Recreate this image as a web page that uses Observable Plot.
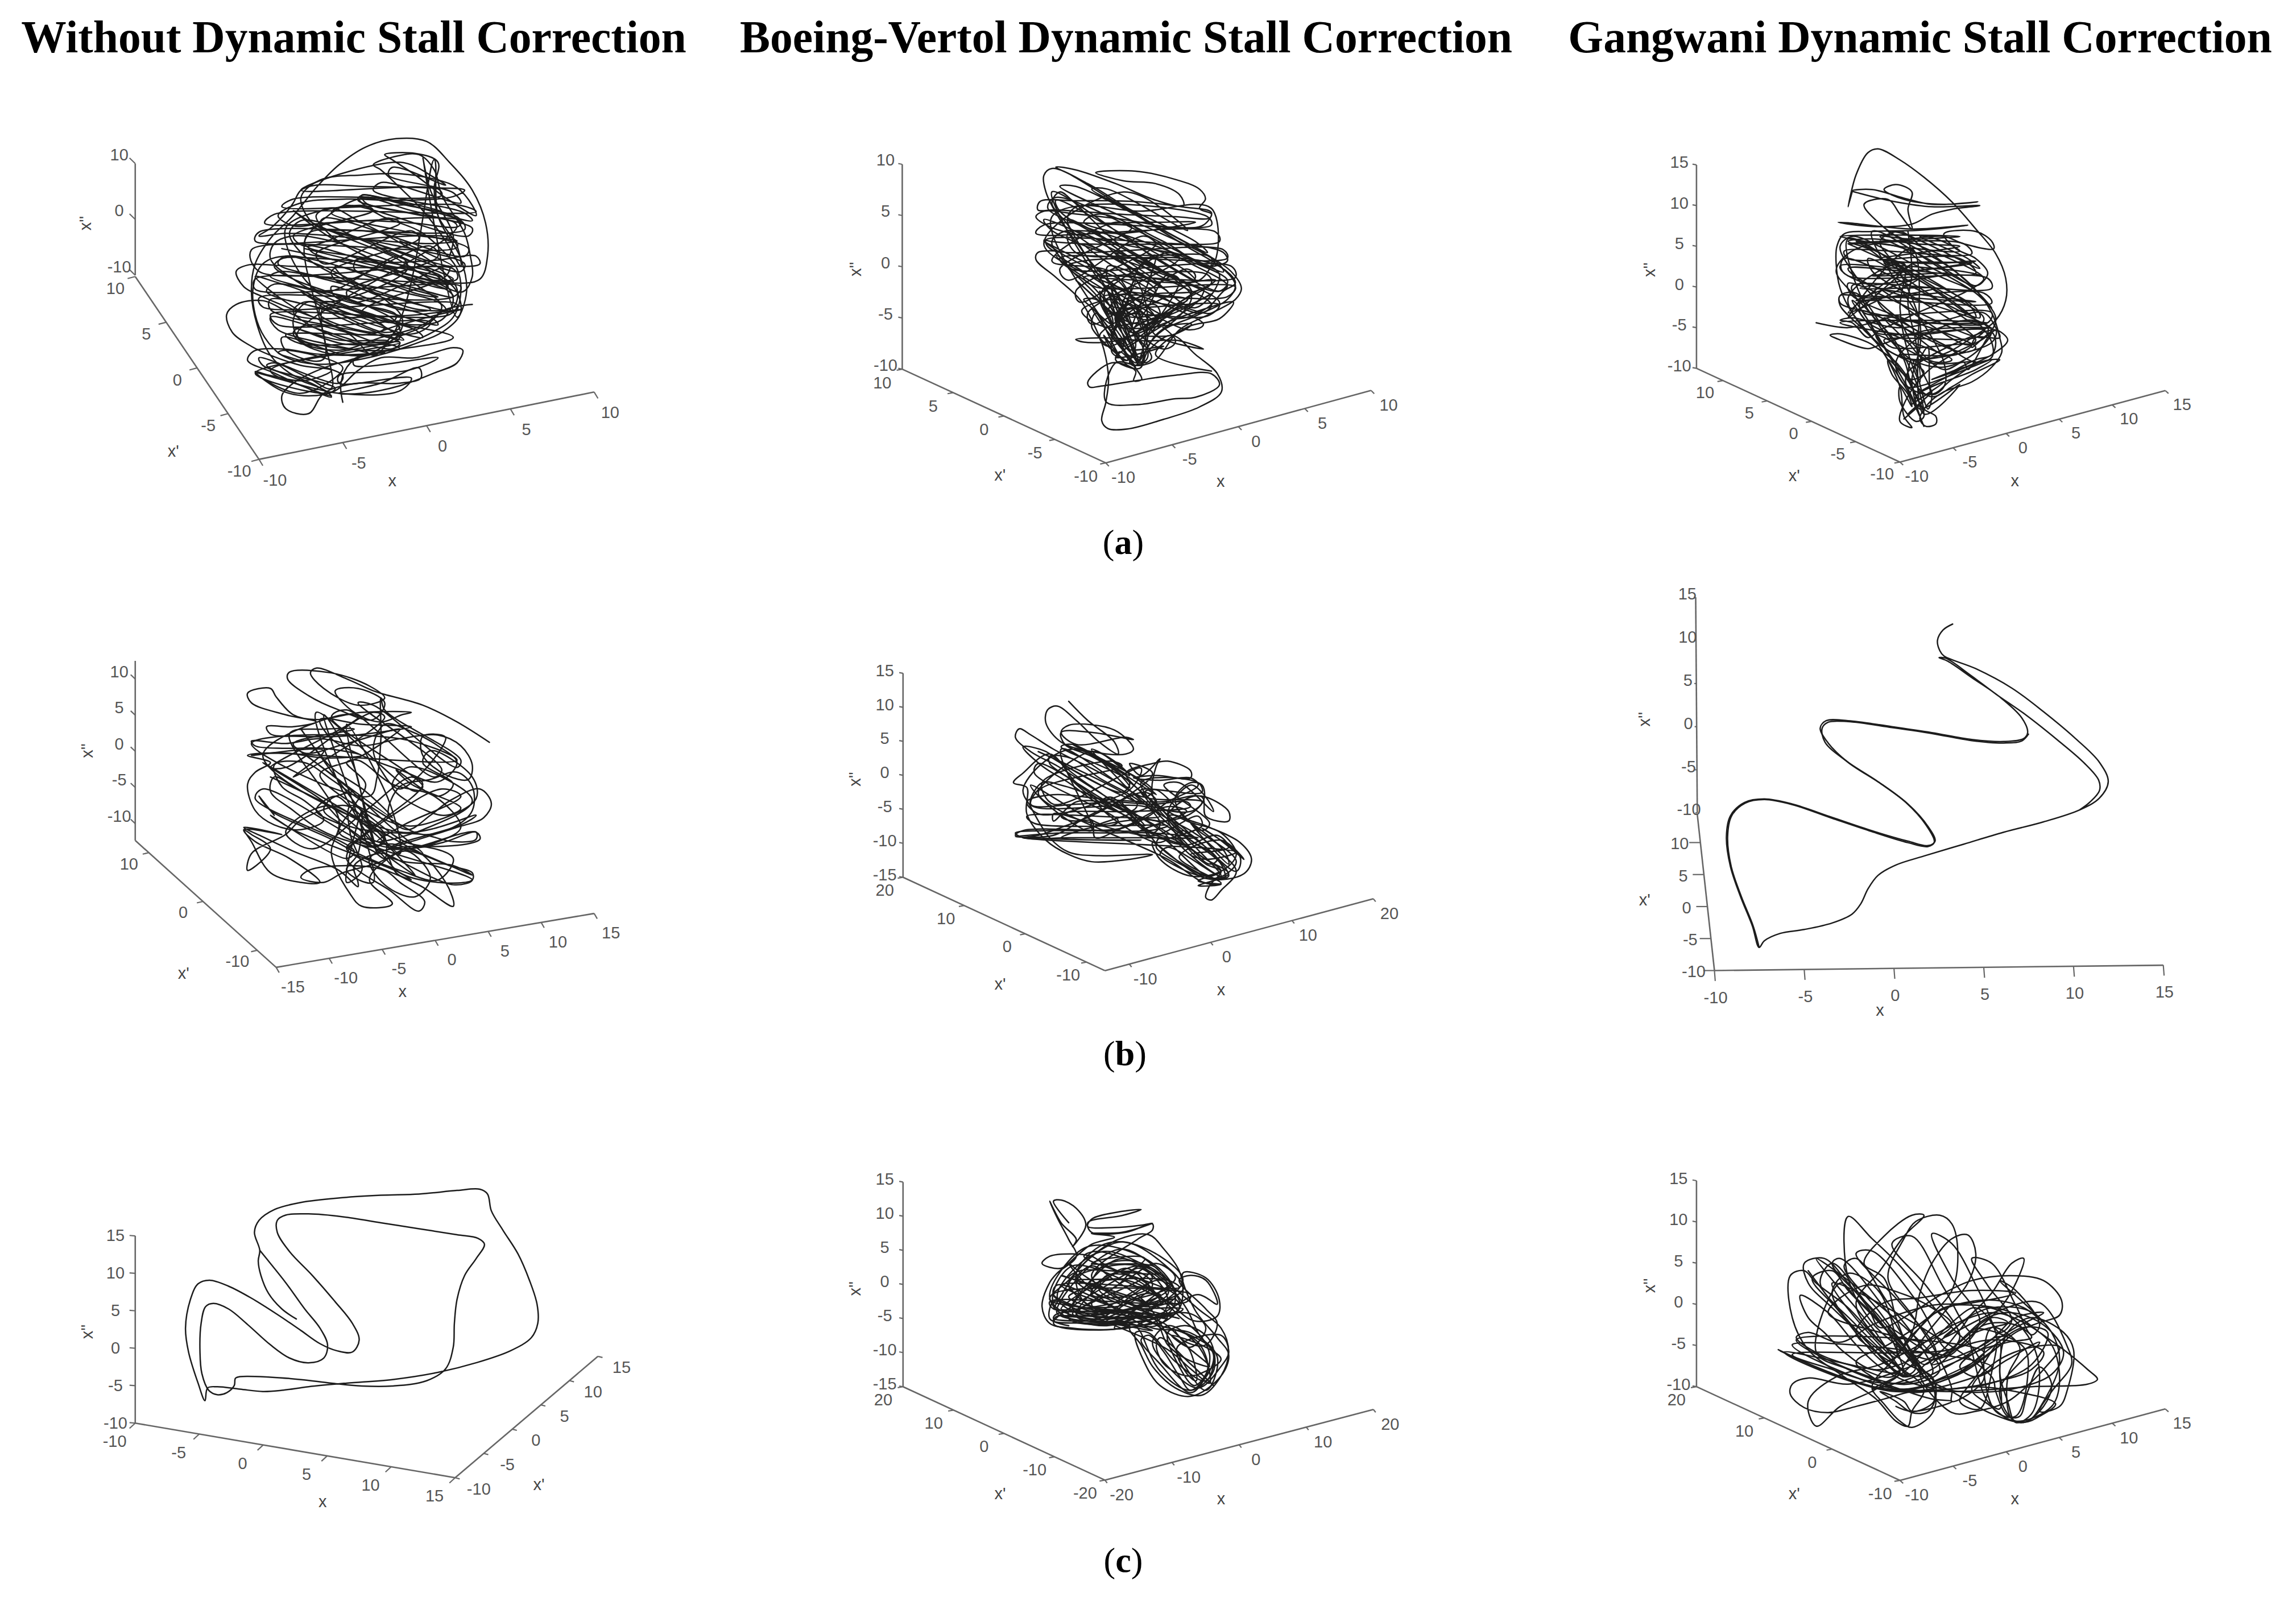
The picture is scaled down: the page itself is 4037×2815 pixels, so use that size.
<!DOCTYPE html>
<html><head><meta charset="utf-8">
<script src="https://cdn.jsdelivr.net/npm/d3@7"></script>
<script src="https://cdn.jsdelivr.net/npm/@observablehq/plot@0.6"></script>
<style>
html,body{margin:0;padding:0;background:#fff}
#page{position:relative;width:4037px;height:2815px;overflow:hidden;background:#fff}
#page svg{position:absolute;background:transparent}
.head,.cap{position:absolute;font-family:"Liberation Serif",serif;color:#000;white-space:nowrap;transform:translateX(-50%)}
.head{font-weight:bold;font-size:79.5px;top:20px}
.cap{font-size:62px;z-index:2}
</style></head><body><div id="page"></div>
<script>
const columnTitles=["Without Dynamic Stall Correction","Boeing-Vertol Dynamic Stall Correction","Gangwani Dynamic Stall Correction"];
const rowCaptions=["a","b","c"];

// Trajectories, as x,y pairs in a 0-1568 reading grid of each panel
const curveA1=[750,1135,745,1060,770,980,840,930,900,860,905,800,860,730,780,660,680,590,600,560,540,590,515,680,520,790,545,880,590,950,680,985,800,965,930,910,1020,850,1060,780,1040,680,960,630,840,560,720,500,620,480,570,510,560,570,620,650,720,730,830,790,930,830,1010,810,1040,730,1000,640,900,560,790,490,700,430,640,420,610,470,650,560,750,650,850,720,950,770,1040,760,1050,690,990,590,880,490,790,420,720,370,680,400,720,480,810,560,920,630,1030,665,1110,650,1130,560,1125,430,1090,300,1030,190,970,108,890,97,810,130,740,200,680,290,620,400,560,490,520,590,510,700,525,830,560,950,610,1020,680,1070,720,1110,650,1075,570,1020,500,970,515,935,590,925,680,945,760,950,860,940,720,945,640,900,620,860,660,830,760,860,860,905,900,880,890,820,820,760,710,700,620,650,570,600,590,570,700,570,850,585,1000,575,1100,560,1110,590,1000,600,800,605,620,600,500,595,470,620,490,680,540,720,620,770,700,815,800,870,900,830,1000,790,1060,770,950,790,800,800,640,800,540,735,470,750,445,790,460,860,510,915,560,950,640,990,720,1010,650,1050,560,1030,520,1015,590,1090,660,1110,730,1090,790,1010,850,960,940,960,1040,920,1065,930,1050,980,990,1020,900,1070,800,1100,740,1100,850,1060,950,1000,955,1040,900,1060,780,1062,700,1100,660,1180,600,1160,590,1110,620,1060,700,1000,790,960,880,925,985,860,1040,800,1060,700,1050,610,1000,520,950,460,850,400,800,350,790,330,860,335,950,360,1010,385,1060,430,1050,445,940,430,810,420,700,430,620,440,580,400,640,350,760,335,900,340,1040,325,1070,300,960,290,800,285,680,280,640,300,620,350,600,390,560,450,530,480,600,470,720,480,860,500,980,510,1050,500,950,480,800,460,680,440,640,330,690,260,800,240,900,235,1000,260,1050,290,1090,360,1100,400,1020,330,940,240,880,180,860,160,940,155,1000,190,990,290,1000,400,1050,520,1060,600,1020,500,960,380,900,290,850,220,830,200,880,170,950,160,990,220,1010,320,1070,470,1085,560,1090,640,1065,700,980,650,880,560,780,500,660,420,620,380,700,470,820,570,940,670,1010,760,960,830,850,880,740,930,640,895,620,810,660,740,740,800,840,860,910,890,850,830,740,770,650,700,570,660,520,640,620,760,770,870,830,950,880,890,970,830,1020,770,1090,750,1135];
const extraA1=[590,530,1020,690,1040,720,600,560,580,590,1000,740,1020,770,590,620,560,640,980,800,1000,830,570,670,550,700,940,850,960,880,560,730,560,770,900,900,880,925,560,800,580,850,820,945,760,950,590,880,600,930,700,965,660,470,1060,620,1070,590,690,440,700,410,1070,560,1080,530,720,390,760,360,1080,480,1090,450,790,340,800,320,1090,420,1070,390,830,300,850,270,1060,350,1040,310,870,240,880,210,1020,280,990,250,900,190,640,300,1000,295,1010,320,620,335,590,365,1060,360,1100,385,570,395,545,430,1060,420,1070,455,530,465,520,500,1040,490,1050,525,510,535,530,620,1040,610,1050,650,520,650,520,690,1060,680,1040,720,530,725,540,760,1050,750,1030,790,560,790,580,830,980,820,950,860,600,870,640,905,900,900,520,1020,710,1100,730,1080,540,990,530,960,740,1060,750,1030,580,940,600,930,750,1000,640,1100,520,1020,740,1100,900,1090,930,1040,740,1060,740,1030,920,1010,1000,960,780,990,780,965,1040,880,800,780,1020,640,1030,600,780,740,760,700,1000,560,980,520,740,660,720,620,950,490,930,460,700,590,680,550,900,430,870,410,650,520,620,480,830,380,800,360,600,450,690,700,900,560,920,610,710,740,640,700,860,860,900,840,650,740,620,780,860,900,990,180,1000,400,1060,570,1075,700,1050,800,960,170,980,300,1040,480,1030,560];
const moreA1=[650,530,840,600,1030,670,1020,650,830,585,660,520,670,545,850,615,1025,685,1010,640,820,570,650,510,790,335,930,380,1060,425,1050,405,920,360,800,320,810,350,940,395,1050,440,630,870,760,925,900,925,880,910,750,905,640,850,620,840,740,890,870,895,560,1010,650,1075,720,1115,705,1090,640,1050,550,990,570,980,660,1040,720,1080,700,760,860,840,840,860,690,790,700,740,880,820,890,790,730,720,720,680,900,770,980,770,760,650,730,600,950,710,1000,720,780,610,790,570,960,650,1040,650,860,540,830,510,1000,590,1040,600,900,500];
const curveA2=[660,415,605,420,600,445,650,510,710,590,745,680,770,770,782,880,775,965,765,1030,780,1058,830,1060,920,1025,1010,980,1065,925,1055,860,1000,790,940,720,880,780,860,840,800,810,810,780,850,840,865,880,845,885,850,850,790,820,730,890,735,908,760,905,850,885,950,865,1040,860,1060,900,1000,945,950,950,850,972,775,960,800,820,860,830,900,810,960,700,1040,640,1100,590,1115,550,1090,490,1020,420,920,340,820,250,730,170,640,115,620,140,625,200,660,300,720,420,780,560,830,720,860,830,880,760,920,700,1000,650,1080,590,1100,540,1070,480,980,400,880,310,780,220,690,140,650,110,700,120,800,170,900,230,970,250,960,210,900,170,820,160,750,130,850,125,950,155,1010,190,1025,225,1010,260,1040,280,1035,295,950,290,800,280,650,265,605,265,610,235,700,232,850,235,970,255,1040,275,1020,320,950,330,820,300,700,280,620,270,600,290,640,330,720,360,850,400,970,430,1030,470,1080,450,1070,420,1000,395,880,390,760,390,640,380,620,375,660,420,760,500,860,600,950,660,1030,620,1070,560,1100,530,1060,470,960,440,840,440,720,450,680,470,740,540,800,640,840,710,880,680,960,600,1040,530,1030,500,920,490,830,500,760,510,850,520,960,530,1050,520,1000,560,900,570,830,600,800,660,835,750,860,800,900,720,960,650,990,580,950,520,880,450,800,380,740,300,690,230,660,200,640,240,680,320,730,440,800,560,840,680,850,760,835,820,850,830,870,760,880,650,860,540,810,440,750,370,680,340,640,380,680,470,760,590,790,680,740,620,720,590,750,590,790,650,790,690,740,670,715,630,800,590,870,640,900,720,1020,770,960,740,870,740,790,730,700,735,720,745,800,740,880,700,990,640,1095,600,1060,660,980,690,900,790,1040,850];
const extraA2=[620,380,1040,640,1060,600,640,340,620,300,1060,560,1080,520,630,260,650,220,1070,490,1050,450,660,180,700,180,1030,420,1000,380,740,190,780,190,980,340,960,310,820,200,620,390,1020,680,980,700,650,430,680,470,950,740,920,770,700,520,730,560,890,800,870,820,740,620,760,670,850,840,830,830,770,720,790,770,830,810,640,290,1030,290,1040,320,620,320,600,350,1050,345,1060,380,625,375,640,410,1070,410,1080,440,660,440,690,480,1090,470,1100,510,720,510,750,545,1100,545,1080,580,770,580,790,615,1060,610,1030,650,800,650,810,690,990,680,940,720,820,730,830,770,920,760,800,800,1010,590,1020,550,780,760,760,720,1000,510,980,480,740,680,730,640,960,440,930,420,710,600,700,560,900,390,870,360,680,520,660,480,840,330,800,310,640,450,800,500,880,800,860,820,780,540,760,590,840,800,820,810,750,640,740,690,810,800,790,780,830,560,850,520,790,720,820,640,860,470,900,430,840,700,880,620,930,500,960,520,880,720,920,660,990,560,800,420,880,500,1000,620,1060,500,960,430,830,360,720,310,760,280,920,380,1040,470,1040,260,860,270,700,255,680,300,880,310,1000,310,820,350,680,350,700,420,880,430,1040,440,1010,520,880,510,780,470,790,540,980,590,950,610,820,590,830,650,940,640,880,680,820,660,870,600,900,560,870,520,820,500];
const moreA2=[780,560,830,760,860,830,840,740,790,560,800,600,870,780,850,820,770,620,760,560,850,800,830,790,770,580,800,520,880,720,870,760,790,540,810,640,840,620,870,700,900,660,820,570,780,640,900,610,910,650,790,700,800,740,930,640,960,610,820,760,840,700,1000,600,1040,570,860,660,640,200,880,420,1000,520,980,490,860,390,650,230,660,270,850,430,960,520,930,500,800,390,680,300,690,340,840,480,930,560,900,530,760,410,720,390,870,540,1010,640,1040,610,880,480,760,350,800,350,920,460,1060,560,1080,540,950,430,840,320];
const curveA3=[650,270,640,330,660,200,690,110,715,95,770,140,830,210,900,310,960,420,1010,520,1035,620,1035,710,1010,790,960,850,890,920,820,950,760,930,700,860,650,760,620,660,610,560,612,490,630,440,700,430,820,425,940,405,800,420,640,395,615,393,700,410,800,400,850,360,900,340,970,325,850,330,760,310,680,280,650,265,700,260,780,295,850,320,965,310,880,320,780,300,730,260,760,240,800,270,790,340,800,420,770,360,740,300,680,320,720,400,790,480,880,560,950,650,1000,760,1020,860,1025,920,1000,980,950,1040,880,1080,840,1130,820,1190,835,1220,860,1210,860,1180,830,1150,800,1060,780,950,720,800,660,680,620,690,620,730,680,830,720,900,770,1060,780,1180,800,1225,770,1200,780,1130,830,1010,900,930,990,850,1010,780,960,680,880,620,800,560,730,500,650,450,620,490,650,590,720,720,800,820,880,890,960,960,1000,940,1000,880,960,790,890,700,810,620,740,560,690,500,640,470,700,460,810,480,920,490,800,520,720,540,840,560,960,550,800,590,640,580,700,650,840,690,960,715,800,700,660,690,620,690,620,720,700,760,840,800,990,800,820,790,620,800,700,830,800,850,920,830,1000,820,840,830,720,890,690,905,620,870,595,850,620,845,690,880,710,900,760,960,800,1040,850,1100,900,1060,950,1010,1020,950,970,960,900,1030,850,1090,780,1050,760,960,800,880,870,820,950,790,1000,830,960,920,880,980,800,950,740,860,700,770,650,680,610,590,640,520,710,480,800,510,880,580,960,670,1000,740,960,680,900,620,830,560,780,500,720,450,790,460,880,450,930,480,1005,500,1000,470,960,430,880,440,910,500,960,540,990,600,960,650,900,580,830,500,770,430,720,470,760,570,800,700,820,800,820,900,800,1030,810,1130,830,1220];
const extraA3=[640,480,960,740,970,780,630,540,625,590,990,820,980,860,640,640,650,690,960,900,930,920,670,750,690,800,900,950,860,960,710,850,730,900,830,1000,800,1030,740,950,750,1010,790,1090,800,1140,770,1060,770,1120,810,1200,830,1180,790,1020,800,950,840,1150,850,1090,820,960,840,900,850,1090,880,1060,880,960,700,430,960,650,980,620,740,430,780,440,970,580,940,540,820,450,860,460,920,510,620,450,920,450,640,480,930,480,950,520,630,510,640,540,920,540,960,600,620,570,640,610,990,620,1000,660,650,650,660,690,980,680,1000,720,670,720,680,760,1000,760,990,800,700,800,710,840,980,830,960,860,730,870,750,900,950,890,910,930,770,930,800,950,1000,880,1010,830,790,1000,790,1060,1000,950,960,990,810,1100,820,1150,920,1050,830,1170,800,500,640,780,800,560,640,760,820,620,660,710,860,660,670,660,900,600,700,610,950,560,730,560,980,620,800,770,760,800,720,830,690,860,650,800,620,790,650,780,760,820,880,790,980,760,1010,820,1020,860,960,860,950,900,1000,840,1010,880,1000,930,960,950,900,1000,1000,930,1040,870,1010,830,990,860,940,990,930,960,880,990,800,880,760,780,700,800,640,820,560,800,480];
const moreA3=[790,430,800,600,790,720,810,880,820,1040,790,920,770,740,780,560,640,700,720,900,790,1080,820,1180,800,1100,730,900,650,710,660,720,740,920,800,1060,830,1160,810,1040,760,880,680,720,640,460,830,640,960,780,950,740,820,600,660,470,680,480,860,660,980,780,970,810,850,690,690,540,700,590,850,740,960,870,940,890,820,780,710,660,720,730,820,840,910,920,880,930,780,820,730,780,790,880,840,960,960,960,850,1030,930,980,820,1080,880,1040,800,1130,850,1080,790,1170,830,1120,780,1190];
const curveB1=[1135,415,1050,330,960,260,860,215,830,200,760,150,680,105,665,125,700,190,790,260,860,230,820,180,720,125,610,122,605,150,660,220,740,280,830,320,860,250,790,190,730,200,780,290,850,330,905,300,930,290,800,290,680,320,620,300,575,225,560,190,500,210,510,250,600,300,680,330,620,350,550,350,560,380,640,390,740,390,860,370,930,350,800,340,690,320,720,400,800,470,900,530,1000,580,1050,500,1000,430,930,370,860,340,830,440,850,530,900,610,1020,395,960,390,960,470,1020,550,1080,570,1090,510,1060,430,1000,385,900,400,800,430,690,400,600,420,510,410,520,430,600,440,700,440,800,470,700,480,600,460,500,470,560,500,520,540,500,590,520,700,570,760,640,780,700,740,650,660,590,600,570,510,650,500,720,570,800,660,880,740,960,800,1040,770,1090,700,1090,600,1050,540,980,570,900,600,870,720,920,780,980,720,1030,660,1110,610,1140,670,1120,730,1050,770,950,820,870,860,950,855,1020,830,1100,790,1100,820,1040,830,960,800,860,790,760,760,700,670,630,610,570,560,560,620,620,700,690,780,770,830,840,850,860,800,780,700,730,640,680,700,770,780,850,880,900,960,1000,1000,1090,990,1090,960,1030,930,950,880,880,850,790,820,760,900,790,950,870,1030,950,1120,965,1080,900,1000,860,950,760,930,660,950,640,980,700,1000,750,960,840,920,930,860,1020,1000,1040,1100,960,1020,890,960,860,880,780,930,790,1000,790,1018,740,950,620,870,540,810,490,770,590,800,490,780,520,830,610,900,690,1000,640,1000,560,960,510,830,490,780,510,800,560,860,500,950,510,880,600,800,640,740,760,680,820,760,860,810,860,900,830,870,780,830,740,790,780,680,810,590,760,500,790,490,880,590,990,640,1060,770,1000,830,900,860,800,820,760,770,700,700,720,650,780,620];
const extraB1=[560,560,860,820,840,850,540,610,520,650,780,870,760,900,560,720,620,780,900,960,930,990,760,860,780,830,1040,1010,1090,990,840,850,880,840,1090,970,1040,930,860,880,680,290,940,620,960,600,720,310,760,280,990,560,1010,530,790,250,830,260,1050,520,1060,490,860,280,850,230,850,400,840,560,820,640,510,420,900,400,1050,490,550,460,510,470,700,450,620,560,860,310,830,290,600,520,560,520,790,310,750,300,540,470,900,790,1100,720,1060,760,880,850,920,860,1100,790,1110,820,930,840,770,680,770,800,800,950,760,1000,800,700,790,880,760,950,830,1000,700,300,780,520,810,720,840,880,760,340,830,520,880,700,900,880,640,360,720,520,810,620,880,730,620,430,760,600,870,760,960,880,540,500,680,640,780,760,860,880,940,970,720,680,600,790,670,860,810,700,930,560,960,590,820,780,760,860,880,720,1010,610,1060,640,910,760,840,830,960,780,1090,660,1010,560,920,520,880,600,1010,720,1060,690,930,590,890,530,1000,640,1040,590,960,500,980,450,1090,560,1100,650,1000,740,900,760,690,550,790,480,870,400,900,360,760,420,650,460,620,420,780,360,700,360,610,380,740,740,720,880,770,1050,800,1100,880,1090,820,990,870,900,920,870,980,980,940,1060,860,1010,820,900,950,850,1040,900,1000,990,900,950,790,880,720,820,650,770,560,700,530,640,570,720];
const curveB2=[640,220,690,300,760,390,770,440,720,390,660,300,610,240,585,255,580,310,620,390,700,430,790,440,810,420,760,340,640,320,620,350,660,400,790,370,810,380,700,350,620,350,630,400,700,450,770,520,800,580,700,500,600,420,540,360,510,335,500,370,540,430,610,490,680,560,740,620,800,680,840,740,760,670,660,560,590,440,520,520,495,560,530,580,530,690,580,800,640,860,700,890,800,880,860,860,720,865,640,850,590,790,540,660,520,590,570,480,650,420,730,470,810,570,880,660,950,720,1040,770,1080,860,1040,930,960,950,880,880,860,810,1000,960,1100,940,1120,880,1090,810,1000,740,940,700,920,620,960,560,990,570,995,630,960,690,880,720,790,680,710,620,620,570,570,560,540,650,660,650,760,640,860,650,950,640,960,660,800,680,660,680,560,690,530,640,600,610,740,630,880,640,990,620,1000,700,1060,720,1060,680,1000,620,960,620,900,700,940,810,1000,900,1040,930,1010,990,1000,1040,1015,1050,1040,1010,1080,930,1020,830,960,760,880,690,830,600,790,520,860,480,900,470,960,510,960,540,870,530,810,540,880,550,960,540,980,570,900,640,850,700,780,750,680,760,580,760,500,770,520,790,640,790,760,790,860,790,980,790,860,770,740,770,620,770,500,785,600,780,690,700,790,620,860,520,800,480,830,530,880,460,870,490,860,610,900,700,960,800,1020,860,1060,950,1020,960,940,900,880,830,830,740,780,690,720,650,640,560,570,490,520,410,580,430,650,520,730,610,790,680,850,760,920,800,990,870,1040,930,980,970,1040,985,980,990,1060,940,1000,880,930,800,870,740,810,690,750,650,660,640,600,720,600,690,680,720,800,770,900,800,960,830,840,760,790,700,700,620,640,540,590,480,590,450,650,460,720,540,790,600,830,640];
const extraB2=[560,430,820,650,800,680,560,480,550,520,770,720,740,740,540,570,590,660,700,760,620,420,840,620,860,590,650,400,680,420,870,610,780,500,700,430,540,650,840,660,880,700,530,700,550,730,900,740,850,760,520,760,500,780,830,800,620,790,870,720,1010,900,1030,880,900,700,930,700,1050,850,1060,900,960,730,980,760,1080,890,1020,960,880,790,870,830,990,950,950,930,880,860,900,830,1040,950,830,560,980,560,990,600,830,590,840,620,990,640,960,680,820,640,590,450,780,600,800,560,620,410,650,400,800,530,760,470,700,420,780,560,880,730,860,770,750,620,720,650,870,810,900,790,780,640,810,610,930,770,960,780,840,600,870,590,990,760,1010,730,890,570,930,560,1020,680,1000,620,960,570,900,700,1040,900,1050,960,920,790,940,760,1080,930,1090,870,990,750,1030,790,1100,880,1040,800,930,870,1040,980,1000,980,900,880,560,600,780,490,750,470,570,560,600,650,830,500,800,590,620,700,660,720,840,600,870,640,700,750,760,760,900,660,950,680,820,770,870,780,980,700,990,740,900,800,950,820,1030,780,1060,830,960,860,1000,880,1080,850,520,790,560,780,700,720,710,790,820,730,850,790];
const curveB3a=[902,185,878,205,864,240,870,275,880,292,960,335,1050,400,1130,480,1210,570,1270,650,1292,715,1270,770,1220,810,1130,850,1030,885,930,925,830,965,760,995,715,1030,690,1075,672,1125,650,1160,600,1190,530,1212,470,1225,430,1250,417,1272,400,1200,370,1100,345,1000,335,900,345,830,380,785,430,773,500,790,600,835,700,880,790,915,840,930,858,915,840,865,790,790,720,720,640,650,590,585,570,535,585,510,640,510,750,530,850,550,950,573,1030,580,1080,570,1090,550,1075,500,1020,430,950,365,890,310,868,298,885,300,945,355,1010,420,1085,490,1165,575,1230,650,1268,710,1270,745,1245,785,1220,810];
const curveB3b=[417,1272,402,1200,372,1100,347,1000,338,900,348,830,382,787,430,775,500,792,600,838,700,883,790,920,840,933,856,918,835,860,785,785,715,715,635,645,582,582,575,535,590,515,640,513,750,533,850,553,950,577,1030,585,1075,578,1092,555];
const curveC1=[628,662,590,620,555,555,535,480,528,420,532,375,518,300,530,250,570,205,640,175,750,155,850,145,950,140,1050,125,1110,120,1130,140,1140,210,1170,290,1210,390,1240,500,1260,600,1262,680,1245,740,1190,795,1100,845,1000,885,880,915,760,930,660,945,590,960,540,965,480,955,420,945,395,950,388,1003,370,930,345,800,337,700,350,580,370,515,400,500,450,525,510,575,580,645,640,710,690,765,735,795,775,800,793,750,775,680,730,590,670,480,610,380,578,300,578,250,600,228,660,223,750,235,850,260,950,285,1050,310,1105,325,1122,350,1100,410,1070,480,1050,580,1043,680,1040,780,1020,870,970,920,880,942,800,942,720,930,640,915,560,905,480,903,468,910,465,940,445,970,420,978,398,960,380,890,375,800,378,680,390,610,410,597,450,620,500,685,560,770,610,825,660,845,700,825,710,770,690,700,650,620,600,510,560,430,532,375];
const curveC2=[640,260,600,170,620,165,660,200,685,270,650,360,660,330,620,260,590,170,610,240,640,330,660,400,610,470,590,510,570,610,590,680,650,700,760,705,800,690,720,680,600,670,610,650,720,665,820,650,900,660,800,630,660,610,590,580,640,500,700,400,770,330,850,310,890,370,930,460,940,540,930,620,870,690,800,700,830,770,860,860,920,950,990,980,1040,900,1060,800,1040,700,980,620,900,510,830,430,730,380,650,460,610,570,650,630,780,660,880,640,980,560,1030,600,1000,500,960,480,930,500,1000,620,1030,680,1000,770,950,760,890,680,810,640,700,610,640,510,720,450,820,440,900,520,950,620,980,720,1020,810,1010,880,960,960,930,900,890,800,850,730,830,750,880,850,960,970,1000,900,1010,810,990,740,930,650,870,560,790,500,700,520,650,620,710,640,820,610,900,560,890,490,810,420,730,440,690,520,640,570,700,610,790,600,860,520,830,470,760,470,710,520,700,560,780,570,850,530,820,490,740,480,720,540,760,580,860,610,920,570,890,470,800,380,690,360,620,460,590,570,620,640,740,690,860,620,940,500,880,400,780,340,720,360,660,470,680,590,760,640,840,660,900,720,960,790,1010,860,950,830,900,770,870,670,820,610,750,560,700,480,820,330,860,290,860,265,790,300,700,300,690,260,780,230,830,205,770,215,700,245,690,275,760,280,830,270,860,262,780,300,700,305,760,320,700,350,660,400,620,450,570,430,590,400,650,390,700,400,740,440,820,500,900,590,970,670,1030,650,1035,580,1000,490,940,470,970,620,1030,740,1060,810,1040,900,960,985,880,940,835,830,815,720,850,720,920,840,1000,920,1020,800,960,730,880,690,800,650,720,630,640,600,600,590,590,660,640,690];
const extraC2=[600,620,680,430,780,340,880,420,940,540,610,640,690,450,780,370,870,450,920,560,900,640,640,660,710,480,780,410,860,480,900,580,880,650,660,650,730,510,790,450,850,520,880,600,620,480,900,640,880,680,610,520,600,560,860,710,820,700,600,600,650,440,930,600,920,560,680,400,720,380,910,520,620,620,820,440,850,470,650,640,690,650,880,500,900,540,730,670,770,680,920,580,930,620,820,690,830,720,880,880,960,960,1020,880,1010,750,950,690,900,720,930,860,970,940,1005,870,980,760,920,710,960,800,975,920,950,890,925,780,1040,730,1060,800,1040,860,980,950,900,860,860,760,900,690,960,740,1000,830,1010,930,960,870,900,790,600,560,960,560,950,590,590,590,600,620,940,620,900,650,620,650,680,670,860,680,620,520,930,530,900,500,640,490,670,460,880,470,860,440,700,430,740,410,840,410,600,680,780,700,800,680,600,660,610,640,900,650,930,660,800,600,740,540,680,480,640,430,700,540,780,640,860,700,960,720,1030,820,1000,960,840,590,760,500,700,440,660,500,760,590,880,660,760,700,860,570,920,490,870,430,800,490,720,570,660,640,720,660,800,570,860,490,820,450,770,520,700,600,740,640,830,560,880,560,820,620,740,670,960,640,1000,700,960,780,910,730,1000,780,1040,830,1000,880,950,900,890,850,870,770,880,740,960,850,1020,940];
const curveC3=[465,790,560,860,660,920,760,955,850,930,930,880,1000,800,1060,720,1120,680,1170,650,1175,590,1130,510,1050,490,950,510,870,570,800,640,720,700,690,620,640,520,580,420,530,440,540,520,600,620,680,740,760,850,830,950,800,1040,790,1100,760,1080,710,990,630,900,540,790,500,660,495,490,530,470,560,520,640,620,720,760,790,850,850,900,860,980,840,1040,800,1045,760,1000,720,960,780,1000,800,1040,855,1000,850,930,780,800,700,680,640,500,640,250,700,340,770,450,840,590,900,700,960,800,980,910,900,1000,900,950,860,800,800,650,740,500,780,340,810,270,870,245,900,280,915,400,900,550,830,680,760,820,700,940,730,1010,770,1080,800,1105,850,1050,860,980,830,880,790,780,760,660,730,500,680,440,730,330,800,245,830,245,780,330,720,470,660,600,700,720,760,800,800,720,820,560,850,440,900,340,940,325,960,400,940,520,880,640,830,740,800,820,830,900,900,960,1000,1050,1080,1085,1120,1060,1160,1010,1060,960,960,940,840,960,760,950,900,960,1100,940,1240,930,1265,910,1240,870,1180,790,1120,720,1050,640,960,610,880,620,820,700,780,780,860,830,970,700,1040,580,1080,420,1050,440,1000,560,940,660,880,740,1020,630,1120,600,1190,780,1200,850,1150,960,1120,1040,1170,1020,1190,950,1205,790,1180,720,1100,660,1040,720,1020,880,1040,1000,1060,1085,1100,1050,1120,900,1100,760,1040,650,970,620,920,710,870,800,760,880,640,930,540,905,500,930,495,970,530,1025,590,1045,660,1020,730,990,800,960,900,950,1010,920,1100,870,1130,800,1000,750,880,810,820,880,900,1045,960,1040,1040,1000,1100,920,1130,870,1170,780,1100,780,1010,840,950,950,990,1010,1060,1080,1150,1020,1170,920,1150,770,1080,680,1000,640,890,700,810,790,750,900,660,860,570,810,510,740,540,720,620,760,700,690,780,640,850,610,950,600,1060,560,950,550,820,580,730,600,660,720,710,800,770,880,710,950,620,1020,560,1100,540,1000,610,900,720,850,820,770,900,690,850,620,770,560,680,530,590,640,720,720,830,760,940];
const extraC3=[470,795,620,900,760,960,900,930,1000,860,500,770,640,890,780,950,880,900,980,800,510,750,660,880,790,930,870,870,560,420,700,700,790,890,810,860,720,660,600,440,620,420,740,640,830,850,860,800,770,600,660,400,700,390,810,590,890,790,920,740,840,540,750,360,800,330,880,540,950,720,970,670,900,500,850,320,900,360,970,560,1020,720,1050,670,990,530,950,420,1000,440,1060,610,1100,730,1120,690,1060,550,1020,510,1150,720,1170,840,1130,1000,1090,1080,1050,1070,1040,900,1070,780,1000,700,980,860,1010,1040,1060,1060,1090,900,1080,780,950,710,960,860,990,1000,1020,1030,1020,880,1020,760,960,900,920,1000,970,1030,1000,880,1010,720,960,620,900,680,840,780,780,880,700,950,860,860,930,740,990,660,1050,640,1130,690,1180,800,1150,890,1050,950,920,960,850,930,920,880,1000,780,1080,700,1140,720,1100,850,990,930,890,950,780,960,700,900,660,840,740,770,800,710,860,640,930,600,1010,590,1080,620,1130,680,1090,630,1000,620,940,660,890,730,820,810,770,850,700,870,630,800,580,720,540,660,520,570,590,640,660,770,720,860,790,920,860,940,780,790,700,650,640,550,600,470,550,500,610,620,700,780,780,900,740,720,660,580,620,520,560,800,640,870,770,950,850,990,900,1000,800,1040,760,1020];
const moreC3=[540,470,620,640,720,830,790,900,760,850,660,690,570,520,600,440,680,590,770,780,830,900,800,820,720,640,630,450,660,420,740,600,820,770,850,890,480,800,580,880,700,940,800,950,900,900,980,820,1040,740,1010,740,920,830,800,920,700,920,600,870,500,810,920,780,980,690,1060,690,1100,740,1040,760,960,800,920,860,960,900,1040,830,1120,760,1020,950,1050,1070,1080,1085,1130,1020,1150,930,1120,860,1090,960,1070,1060,1040,1060,1010,960,1000,900,600,520,690,720,760,820,720,560,640,480,600,560,700,780,780,900,820,870,740,700,880,820,960,720,1040,680,1000,660,920,760,850,850,990,760,1060,660,1130,640,1060,700,960,800,880,860];

// Axis tick values and labels
const ticks5=[-10,-5,0,5,10];
const panels=[
{name:"A1",crop:[100,200,1050,700],curves:[curveA1,extraA1,moreA1],
 axes:[{a:[205,635],b:[205,195],lo:-10,hi:10,t:[-10,0,10],tk:[-15,-22],lb:[-42,-33]},
       {a:[205,640],b:[530,1360],lo:10,hi:-10,t:[10,5,0,-5,-10],tk:[-20,8],lb:[-52,48]},
       {a:[530,1360],b:[1410,1095],lo:-10,hi:10,t:ticks5,tk:[10,25],lb:[42,82]}],
 names:[[880,1445],[305,1328],[75,430]]},
{name:"A2",crop:[1400,240,1100,760],curves:[curveA2,extraA2,moreA2],
 axes:[{a:[265,843],b:[265,100],lo:-10,hi:10,t:ticks5,tk:[-10,-3],lb:[-42,-14]},
       {a:[265,843],b:[775,1183],lo:10,hi:-10,t:[10,5,0,-5,-10],tk:[-14,4],lb:[-50,50]},
       {a:[775,1183],b:[1440,920],lo:-10,hi:10,t:ticks5,tk:[8,12],lb:[44,54]}],
 names:[[1063,1250],[510,1228],[148,480]]},
{name:"A3",crop:[2800,220,1100,680],curves:[curveA3,extraA3,moreA3],
 axes:[{a:[260,985],b:[260,160],lo:-10,hi:15,t:[-10,-5,0,5,10,15],tk:[-10,-3],lb:[-43,-9]},
       {a:[260,985],b:[770,1365],lo:13,hi:-10,t:[10,5,0,-5,-10],tk:[-14,4],lb:[-45,50]},
       {a:[770,1365],b:[1435,1075],lo:-10,hi:15,t:[-10,-5,0,5,10,15],tk:[8,12],lb:[42,58]}],
 names:[[1058,1442],[505,1420],[143,585]]},
{name:"B1",crop:[100,1130,1050,660],curves:[curveB1,extraB1],
 axes:[{a:[205,825],b:[205,75],lo:-12.33,hi:12.5,t:ticks5,tk:[-12,-18],lb:[-42,-30]},
       {a:[205,825],b:[575,1355],lo:12.5,hi:-13.5,t:[10,0,-10],tk:[-16,6],lb:[-52,48]},
       {a:[575,1355],b:[1410,1130],lo:-15,hi:15,t:[-15,-10,-5,0,5,10,15],tk:[8,22],lb:[44,82]}],
 names:[[907,1458],[332,1380],[80,450]]},
{name:"B2",crop:[1450,1140,1050,660],curves:[curveB2,extraB2],
 axes:[{a:[205,955],b:[205,103],lo:-15,hi:15,t:[-15,-10,-5,0,5,10,15],tk:[-10,-3],lb:[-48,-10]},
       {a:[205,955],b:[735,1345],lo:20,hi:-13,t:[20,10,0,-10],tk:[-14,4],lb:[-48,55]},
       {a:[735,1345],b:[1440,1045],lo:-13,hi:20,t:[-10,0,10,20],tk:[6,12],lb:[42,62]}],
 names:[[1040,1425],[460,1402],[80,545]]},
{name:"B3",crop:[2800,1000,1100,820],curves:[curveB3a,curveB3b],
 axes:[{a:[262,820],b:[258,95],lo:-10,hi:15,t:[-10,-5,0,5,10,15],tk:[-5,0],lb:[-21,-10]},
       {a:[262,825],b:[305,1350],lo:14.4,hi:-10,t:[10,5,0,-5,-10],tk:[-28,0],lb:[-52,5]},
       {a:[305,1350],b:[1430,1332],lo:-10,hi:15,t:[-10,-5,0,5,10,15],tk:[2,35],lb:[3,92]}],
 names:[[720,1485],[130,1113],[130,505]]},
{name:"C1",crop:[100,2040,1050,660],curves:[curveC1],
 axes:[{a:[205,1097],b:[205,315],lo:-10,hi:15,t:[-10,-5,0,5,10,15],tk:[-15,-2],lb:[-52,0]},
       {a:[205,1097],b:[1045,1325],lo:-10,hi:15,t:[-10,-5,0,5,10,15],tk:[-15,22],lb:[-54,78]},
       {a:[1045,1325],b:[1420,818],lo:-10,hi:15,t:[-10,-5,0,5,10,15],tk:[12,5],lb:[62,48]}],
 names:[[697,1425],[1265,1355],[80,715]]},
{name:"C2",crop:[1450,2040,1050,660],curves:[curveC2,extraC2],
 axes:[{a:[205,945],b:[205,90],lo:-15,hi:15,t:[-15,-10,-5,0,5,10,15],tk:[-10,-3],lb:[-48,-10]},
       {a:[205,945],b:[735,1335],lo:20,hi:-20,t:[20,10,0,-10,-20],tk:[-14,4],lb:[-52,55]},
       {a:[735,1335],b:[1440,1040],lo:-20,hi:20,t:[-20,-10,0,10,20],tk:[6,12],lb:[44,62]}],
 names:[[1040,1415],[460,1392],[80,535]]},
{name:"C3",crop:[2800,2030,1100,680],curves:[curveC3,extraC3,moreC3],
 axes:[{a:[260,940],b:[260,105],lo:-10,hi:15,t:[-10,-5,0,5,10,15],tk:[-10,-3],lb:[-45,-8]},
       {a:[260,940],b:[770,1320],lo:20,hi:-10,t:[20,10,0,-10],tk:[-14,4],lb:[-50,55]},
       {a:[770,1320],b:[1435,1030],lo:-10,hi:15,t:[-10,-5,0,5,10,15],tk:[8,12],lb:[42,60]}],
 names:[[1058,1395],[505,1375],[143,530]]}
];
const axisNames=["x","x'","x''"];

const page=document.getElementById("page");
const pairs=f=>d3.range(0,f.length,2).map(i=>({u:f[i],v:f[i+1]}));
const font="Liberation Sans, Arial, sans-serif";
for(const p of panels){
  const [cx,cy,w,h]=p.crop;
  const lines=[],tickMarks=[],labels=[];
  for(const ax of p.axes){
    lines.push({u1:ax.a[0],v1:ax.a[1],u2:ax.b[0],v2:ax.b[1]});
    for(const t of ax.t){
      const f=(t-ax.lo)/(ax.hi-ax.lo);
      const u=ax.a[0]+f*(ax.b[0]-ax.a[0]), v=ax.a[1]+f*(ax.b[1]-ax.a[1]);
      tickMarks.push({u1:u,v1:v,u2:u+ax.tk[0],v2:v+ax.tk[1]});
      labels.push({u:u+ax.lb[0],v:v+ax.lb[1],s:String(t)});
    }
  }
  const names=p.names.map((n,i)=>({u:n[0],v:n[1],s:axisNames[i]}));
  const svg=Plot.plot({width:w,height:h,margin:0,
    x:{domain:[0,1568],range:[0,w],axis:null},
    y:{domain:[0,1568],range:[0,h],axis:null},
    marks:[
      Plot.link(lines,{x1:"u1",y1:"v1",x2:"u2",y2:"v2",stroke:"#666",strokeWidth:2.6}),
      Plot.link(tickMarks,{x1:"u1",y1:"v1",x2:"u2",y2:"v2",stroke:"#666",strokeWidth:2.2}),
      ...p.curves.map(c=>Plot.line(pairs(c),{x:"u",y:"v",curve:"catmull-rom",stroke:"#1c1c1c",strokeWidth:2.5})),
      Plot.text(labels,{x:"u",y:"v",text:"s",fontSize:29,fontFamily:font,fill:"#555"}),
      Plot.text(names.slice(0,2),{x:"u",y:"v",text:"s",fontSize:29,fontFamily:font,fill:"#444"}),
      Plot.text(names.slice(2),{x:"u",y:"v",text:"s",rotate:-90,fontSize:29,fontFamily:font,fill:"#444"})
    ]});
  svg.style.left=cx+"px"; svg.style.top=cy+"px";
  page.appendChild(svg);
}
const headX=[622,1980,3376];
columnTitles.forEach((t,i)=>{const d=document.createElement("div");d.className="head";d.textContent=t;d.style.left=headX[i]+"px";page.appendChild(d);});
const capY=[918,1817,2708], capX=[1975,1978,1975];
rowCaptions.forEach((t,i)=>{const d=document.createElement("div");d.className="cap";d.innerHTML="(<b>"+t+"</b>)";d.style.left=capX[i]+"px";d.style.top=capY[i]+"px";page.appendChild(d);});
</script></body></html>
